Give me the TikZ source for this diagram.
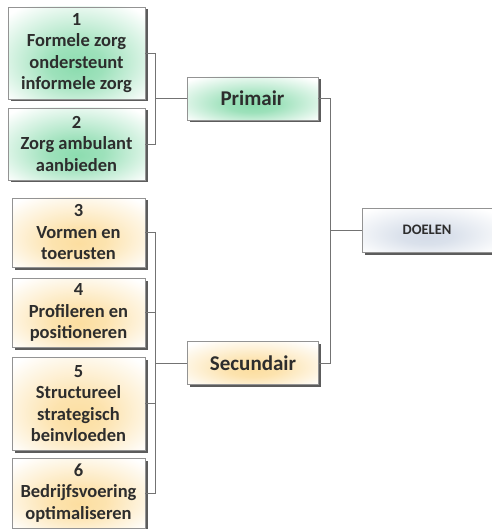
\documentclass[tikz,border=0pt]{standalone}
\usepackage{fontspec}
\setmainfont{Carlito}
\usetikzlibrary{shadows}
\definecolor{glowgreen}{RGB}{140,220,175}
\definecolor{glowyellow}{RGB}{252,222,160}
\definecolor{glowblue}{RGB}{212,220,232}
\definecolor{ink}{RGB}{45,45,45}
\pgfdeclareradialshading{greenglow}{\pgfpoint{0bp}{-8bp}}{color(0bp)=(glowgreen);color(10bp)=(glowgreen!85!white);color(34bp)=(white);color(50bp)=(white)}
\pgfdeclareradialshading{yellowglow}{\pgfpoint{0bp}{-8bp}}{color(0bp)=(glowyellow);color(10bp)=(glowyellow!85!white);color(34bp)=(white);color(50bp)=(white)}
\pgfdeclareradialshading{blueglow}{\pgfpoint{0bp}{-8bp}}{color(0bp)=(glowblue);color(10bp)=(glowblue!85!white);color(34bp)=(white);color(50bp)=(white)}
\begin{document}
\begin{tikzpicture}[x=1pt,y=-1pt,
    box/.style={draw=gray!85,rectangle,inner sep=0pt,align=center,text=ink,
      font=\bfseries\fontsize{18.5}{21.5}\selectfont,
      drop shadow={shadow xshift=2.5pt,shadow yshift=-2.5pt,opacity=0.85,fill=black!75}},
    goalbox/.style={box,shading=greenglow,minimum width=137pt},
    subbox/.style={box,shading=yellowglow,minimum width=133pt},
    headbox/.style={box,minimum width=131pt,minimum height=43pt,font=\bfseries\fontsize{21}{24}\selectfont},
    link/.style={draw=gray!90!black,line width=0.8pt}]
  \useasboundingbox (0,0) rectangle (491,529);
  \node[goalbox,minimum height=92pt] (f1) at (76.5,53) {1\\Formele zorg\\ondersteunt\\informele zorg};
  \node[goalbox,minimum height=72pt] (f2) at (76.5,144) {2\\Zorg ambulant\\aanbieden};
  \node[subbox,minimum height=69pt] (s3) at (78.5,232.5) {3\\Vormen en\\toerusten};
  \node[subbox,minimum height=69pt] (s4) at (78.5,312.5) {4\\Profileren en\\positioneren};
  \node[subbox,minimum height=93pt] (s5) at (78.5,403.5) {5\\Structureel\\strategisch\\beinvloeden};
  \node[subbox,minimum height=70pt] (s6) at (78.5,493) {6\\Bedrijfsvoering\\optimaliseren};
  \node[headbox,shading=greenglow] (prim) at (252.5,98.5) {Primair};
  \node[headbox,shading=yellowglow] (sec) at (253,363) {Secundair};
  \node[box,shading=blueglow,minimum width=130pt,minimum height=44pt,
    font=\bfseries\fontsize{14.5}{16}\selectfont] (doel) at (427,230) {DOELEN};
  % takken naar de hoofdgroepen
  \foreach \n in {f1,f2} \draw[link] (\n.east) -- ++(10,0) |- (prim.west);
  \foreach \n in {s3,s4,s5,s6} \draw[link] (\n.east) -- ++(10,0) |- (sec.west);
  \draw[link] (prim.east) -- ++(12,0) |- (doel.west);
  \draw[link] (sec.east) -- ++(12,0) |- (doel.west);
\end{tikzpicture}
\end{document}
